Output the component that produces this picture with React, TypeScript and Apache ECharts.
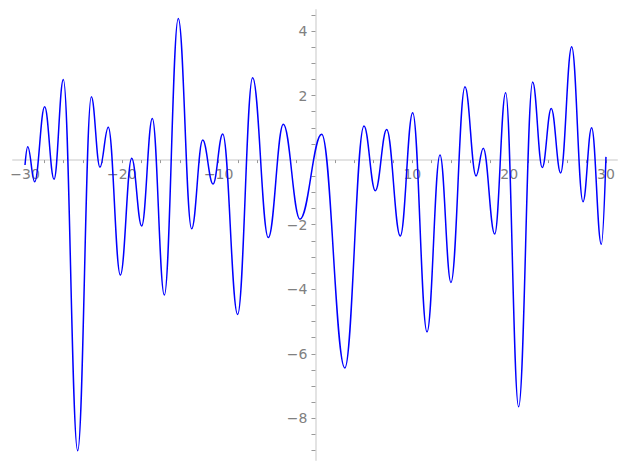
import React, { useEffect, useRef } from "react";
import * as echarts from "echarts";

// Curve extrema (x, y)
const xs = [-30, -29.72, -29.0, -27.97, -27.0, -26.04, -24.56, -23.15, -22.26, -21.4, -20.15, -18.98, -17.95, -16.85, -15.61, -14.17, -12.79, -11.65, -10.58, -9.58, -8.04, -6.49, -4.87, -3.32, -1.6, 0.64, 3.03, 5.01, 6.18, 7.35, 8.76, 10.04, 11.52, 12.86, 13.99, 15.44, 16.58, 17.33, 18.51, 19.64, 20.98, 22.43, 23.42, 24.35, 25.32, 26.46, 27.63, 28.52, 29.52, 30];
const ys = [-0.15, 0.41, -0.67, 1.65, -0.59, 2.5, -9.0, 1.96, -0.22, 1.02, -3.56, 0.06, -2.04, 1.29, -4.18, 4.39, -2.13, 0.62, -0.74, 0.81, -4.78, 2.55, -2.4, 1.11, -1.83, 0.8, -6.44, 1.06, -0.95, 0.95, -2.35, 1.47, -5.32, 0.16, -3.79, 2.27, -0.49, 0.37, -2.29, 2.09, -7.64, 2.42, -0.23, 1.6, -0.4, 3.51, -1.29, 1.0, -2.61, 0.1];

const xLabels = [-30, -20, -10, 10, 20, 30];
const xTicks = [-30, -28, -26, -24, -22, -20, -18, -16, -14, -12, -10, -8, -6, -4, -2, 2, 4, 6, 8, 10, 12, 14, 16, 18, 20, 22, 24, 26, 28, 30];
const yLabels = [-8, -6, -4, -2, 2, 4];
const yTicks = [-9, -8.5, -8, -7.5, -7, -6.5, -6, -5.5, -5, -4.5, -4, -3.5, -3, -2.5, -2, -1.5, -1, -0.5, 0.5, 1, 1.5, 2, 2.5, 3, 3.5, 4, 4.5];

const X_MIN = -31.24;
const X_MAX = 31.14;
const Y_MIN = -9.29;
const Y_MAX = 4.65;

export default function App() {
  const ref = useRef<HTMLDivElement>(null);
  useEffect(() => {
    if (!ref.current) return;
    const chart = echarts.init(ref.current, null, { renderer: "svg" });
    const data = xs.map((x, i) => [x, ys[i]]);
    const axisColor = "#e3e3e3";
    const labelColor = "#808080";
    const gl = 13, gt = 10, gw = 604, gh = 450;
    // shift the axes so they cross at the origin
    const xOffset = -(gh * (-Y_MIN) / (Y_MAX - Y_MIN));
    const yOffset = -(gw * (-X_MIN) / (X_MAX - X_MIN));
    const fmt = (v: number) => (v < 0 ? "\u2212" + Math.abs(v) : String(v));
    chart.setOption({
      animation: false,
      backgroundColor: "#ffffff",
      grid: { left: gl, top: gt, width: gw, height: gh, containLabel: false, outerBoundsMode: "none" },
      xAxis: {
        type: "value",
        min: X_MIN,
        max: X_MAX,
        position: "bottom",
        offset: xOffset,
        axisLine: { onZero: false, lineStyle: { color: axisColor, width: 2 } },
        axisTick: { show: true, length: 3, customValues: xTicks, lineStyle: { color: "#999999", width: 1 } },
        axisLabel: {
          customValues: xLabels,
          color: labelColor,
          fontSize: 14,
          fontFamily: "DejaVu Sans",
          margin: 7,
          formatter: fmt,
        },
        splitLine: { show: false },
      },
      yAxis: {
        type: "value",
        min: Y_MIN,
        max: Y_MAX,
        position: "left",
        offset: yOffset,
        axisLine: { onZero: false, lineStyle: { color: axisColor, width: 2 } },
        axisTick: { show: true, length: 4, customValues: yTicks, lineStyle: { color: "#999999", width: 1 } },
        axisLabel: {
          customValues: yLabels,
          color: labelColor,
          fontSize: 14,
          fontFamily: "DejaVu Sans",
          margin: 8,
          formatter: fmt,
        },
        splitLine: { show: false },
      },
      series: [
        {
          type: "line",
          data,
          smooth: 0.4,
          smoothMonotone: "x",
          showSymbol: false,
          symbol: "none",
          lineStyle: { color: "#0000ff", width: 1.5 },
        },
      ],
    });
    return () => chart.dispose();
  }, []);
  return (
    <div
      ref={ref}
      style={{ position: "fixed", left: 0, top: 0, width: 627, height: 470, background: "#fff" }}
    />
  );
}
